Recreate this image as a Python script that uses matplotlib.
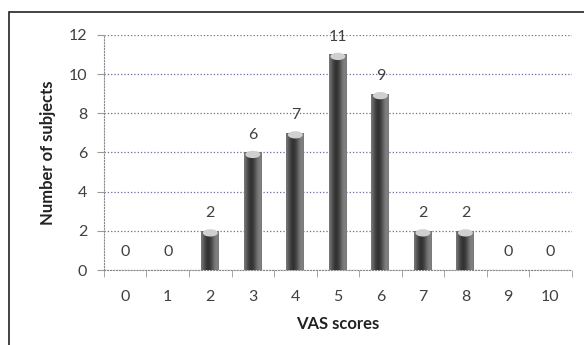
import numpy as np
import matplotlib
matplotlib.use('Agg')
import matplotlib.pyplot as plt
from matplotlib.patches import Rectangle, Ellipse

scores = ['0', '1', '2', '3', '4', '5', '6', '7', '8', '9', '10']
subjects = [0, 0, 2, 6, 7, 11, 9, 2, 2, 0, 0]
yticks = [0, 2, 4, 6, 8, 10, 12]

plt.rcParams['font.family'] = ['Lato', 'DejaVu Sans']

fig = plt.figure(figsize=(5.84, 3.45), dpi=100)
ax = fig.add_axes([0.178, 0.217, 0.801, 0.682])

x = np.arange(len(scores))
bars = ax.bar(x, subjects, width=0.42, color='#5c5c5c', zorder=3)

# cylinder-like shading on each bar
grad = np.linspace(0, 1, 64)
shade = 0.5 - 0.3 * np.cos((grad - 0.4) * np.pi) ** 2
img = np.tile(shade, (2, 1))
for b in bars:
    h = b.get_height()
    if h == 0:
        continue
    x0 = b.get_x()
    w = b.get_width()
    im = ax.imshow(img, cmap='gray', vmin=0, vmax=1, aspect='auto',
                   extent=(x0, x0 + w, 0, h), zorder=4)
    im.set_clip_path(b)
    ax.add_patch(Ellipse((x0 + w / 2, h - 0.1), w * 0.75, 0.3,
                         color='#d0d0d0', zorder=5))

for xi, v in zip(x, subjects):
    ax.text(xi, v + 0.55, str(v), ha='center', va='bottom', fontsize=11.5, color='#404040')

ax.set_xlim(-0.5, len(scores) - 0.5)
ax.set_ylim(0, 12)
ax.set_yticks(yticks)
ax.set_xticks(x)
ax.set_xticklabels(scores)
ax.set_xticks(np.arange(-0.5, len(scores), 1), minor=True)
ax.tick_params(axis='x', which='major', length=0, pad=14, labelsize=11.5, labelcolor='#404040')
ax.tick_params(axis='x', which='minor', length=5, color='#999999', direction='out')
ax.tick_params(axis='y', length=5, color='#999999', labelsize=11.5, labelcolor='#404040', pad=7)

ax.grid(axis='y', linestyle=':', color='#6a6aa0', linewidth=0.9, zorder=0)
ax.grid(axis='x', which='minor', visible=False)
for s in ['top', 'right']:
    ax.spines[s].set_visible(False)
for s in ['left', 'bottom']:
    ax.spines[s].set_linestyle(':')
    ax.spines[s].set_color('#888888')

ax.set_xlabel('VAS scores', fontsize=12, fontweight='bold', color='#222222', labelpad=9)
ax.set_ylabel('Number of subjects', fontsize=12, fontweight='bold', color='#222222', labelpad=9)

fig.patches.append(Rectangle((9 / 584, -0.1), 1.1, 1 - 12 / 345 + 0.1,
                             transform=fig.transFigure, fill=False,
                             edgecolor='#222222', linewidth=1.2))

fig.savefig('out.png', dpi=100)
